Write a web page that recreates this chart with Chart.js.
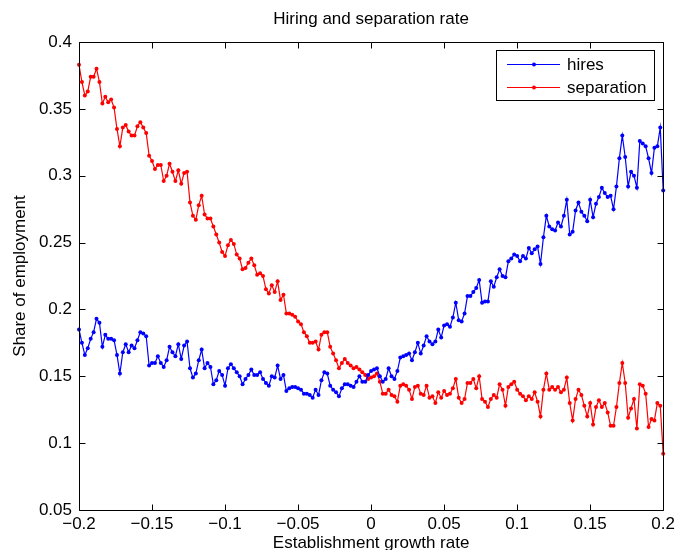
<!DOCTYPE html>
<html>
<head>
<meta charset="utf-8">
<title>Hiring and separation rate</title>
<script src="https://cdn.jsdelivr.net/npm/chart.js@4.4.1/dist/chart.umd.min.js"></script>
<style>
  html, body { margin: 0; padding: 0; background: #fff; }
  #wrap { width: 679px; height: 550px; }
</style>
</head>
<body>
<div id="wrap"><canvas id="chart" width="679" height="550"></canvas></div>
<script>
// x grid: establishment growth rate, from -0.2 to 0.2 in steps of 0.002
const xStart = -0.2;
const xStep = 0.002;

// share of employment hired
const hires = [
  0.185, 0.175, 0.166, 0.171, 0.178, 0.183, 0.193, 0.190, 0.172, 0.181,
  0.178, 0.178, 0.177, 0.166, 0.152, 0.168, 0.174, 0.168, 0.173, 0.171,
  0.177, 0.183, 0.182, 0.180, 0.158, 0.160, 0.160, 0.165, 0.160, 0.157,
  0.162, 0.172, 0.168, 0.165, 0.174, 0.163, 0.173, 0.176, 0.156, 0.149,
  0.152, 0.162, 0.170, 0.156, 0.160, 0.157, 0.144, 0.147, 0.154, 0.151,
  0.143, 0.156, 0.159, 0.156, 0.153, 0.150, 0.144, 0.148, 0.151, 0.155,
  0.151, 0.151, 0.153, 0.148, 0.145, 0.143, 0.150, 0.149, 0.158, 0.148,
  0.151, 0.139, 0.141, 0.142, 0.142, 0.141, 0.140, 0.137, 0.137, 0.136,
  0.134, 0.140, 0.136, 0.147, 0.153, 0.152, 0.143, 0.140, 0.138, 0.135,
  0.141, 0.144, 0.144, 0.143, 0.142, 0.146, 0.150, 0.146, 0.146, 0.151,
  0.154, 0.155, 0.156, 0.150, 0.146, 0.148, 0.156, 0.150, 0.148, 0.154,
  0.164, 0.165, 0.166, 0.167, 0.162, 0.168, 0.175, 0.167, 0.173, 0.180,
  0.176, 0.174, 0.176, 0.185, 0.179, 0.188, 0.189, 0.187, 0.194, 0.205,
  0.192, 0.191, 0.197, 0.210, 0.210, 0.213, 0.216, 0.222, 0.205, 0.206,
  0.206, 0.221, 0.217, 0.224, 0.230, 0.225, 0.224, 0.236, 0.238, 0.241,
  0.240, 0.236, 0.240, 0.238, 0.246, 0.242, 0.245, 0.247, 0.234, 0.254,
  0.270, 0.262, 0.260, 0.259, 0.265, 0.262, 0.270, 0.282, 0.256, 0.258,
  0.274, 0.280, 0.273, 0.270, 0.266, 0.282, 0.269, 0.279, 0.284, 0.291,
  0.287, 0.284, 0.285, 0.275, 0.292, 0.313, 0.330, 0.314, 0.292, 0.303,
  0.300, 0.291, 0.326, 0.324, 0.322, 0.313, 0.302, 0.321, 0.322, 0.336, 0.289
];

// share of employment separated
const separation = [
  0.383, 0.370, 0.360, 0.363, 0.374, 0.374, 0.380, 0.370, 0.354, 0.359,
  0.355, 0.357, 0.351, 0.335, 0.322, 0.336, 0.338, 0.333, 0.330, 0.330,
  0.337, 0.340, 0.336, 0.332, 0.315, 0.311, 0.305, 0.308, 0.308, 0.296,
  0.300, 0.309, 0.303, 0.296, 0.304, 0.294, 0.302, 0.303, 0.280, 0.270,
  0.267, 0.278, 0.285, 0.271, 0.268, 0.268, 0.262, 0.256, 0.250, 0.243,
  0.240, 0.248, 0.252, 0.249, 0.241, 0.238, 0.230, 0.231, 0.235, 0.238,
  0.233, 0.226, 0.227, 0.225, 0.215, 0.212, 0.218, 0.213, 0.221, 0.207,
  0.211, 0.197, 0.197, 0.196, 0.1945, 0.191, 0.189, 0.183, 0.180, 0.175,
  0.175, 0.176, 0.170, 0.181, 0.183, 0.183, 0.172, 0.167, 0.162, 0.156,
  0.160, 0.163, 0.160, 0.158, 0.156, 0.157, 0.155, 0.153, 0.151, 0.148,
  0.149, 0.150, 0.152, 0.146, 0.137, 0.137, 0.140, 0.136, 0.135, 0.131,
  0.143, 0.144, 0.143, 0.140, 0.133, 0.142, 0.143, 0.137, 0.136, 0.143,
  0.134, 0.135, 0.130, 0.138, 0.134, 0.139, 0.136, 0.137, 0.141, 0.148,
  0.134, 0.130, 0.133, 0.145, 0.145, 0.148, 0.141, 0.150, 0.133, 0.131,
  0.127, 0.133, 0.136, 0.134, 0.144, 0.140, 0.128, 0.142, 0.144, 0.146,
  0.140, 0.137, 0.135, 0.132, 0.135, 0.133, 0.138, 0.131, 0.120, 0.140,
  0.152, 0.140, 0.142, 0.140, 0.142, 0.138, 0.140, 0.149, 0.130, 0.117,
  0.133, 0.140, 0.136, 0.128, 0.120, 0.130, 0.114, 0.127, 0.132, 0.127,
  0.130, 0.123, 0.113, 0.113, 0.127, 0.145, 0.160, 0.145, 0.119, 0.126,
  0.133, 0.111, 0.144, 0.143, 0.137, 0.112, 0.118, 0.117, 0.130, 0.128, 0.092
];

const growth = hires.map((_, i) => +(xStart + i * xStep).toFixed(3));

// axis ticks
const xTicks = [-0.2, -0.15, -0.1, -0.05, 0, 0.05, 0.1, 0.15, 0.2];
const yTicks = [0.05, 0.1, 0.15, 0.2, 0.25, 0.3, 0.35, 0.4];

const FONT = '"Liberation Sans", Arial, Helvetica, sans-serif';

function fmt(v) {
  const r = Math.round(v * 100) / 100;
  if (r === 0) return '0';
  return (r < 0 ? '\u2212' : '') + Math.abs(r);
}

// MATLAB style box with inward ticks
const matlabAxes = {
  id: 'matlabAxes',
  afterDatasetsDraw(chart) {
    const { ctx, chartArea: a, scales: { x, y } } = chart;
    const L = Math.round(a.left) + 0.5, R = Math.round(a.right) + 0.5;
    const T = Math.round(a.top) + 0.5, B = Math.round(a.bottom) + 0.5;
    const tl = 6;
    ctx.save();
    ctx.strokeStyle = '#000';
    ctx.lineWidth = 1;
    ctx.beginPath();
    ctx.rect(L, T, R - L, B - T);
    xTicks.forEach(v => {
      const px = Math.round(x.getPixelForValue(v)) + 0.5;
      ctx.moveTo(px, B); ctx.lineTo(px, B - tl);
      ctx.moveTo(px, T); ctx.lineTo(px, T + tl);
    });
    yTicks.forEach(v => {
      const py = Math.round(y.getPixelForValue(v)) + 0.5;
      ctx.moveTo(L, py); ctx.lineTo(L + tl, py);
      ctx.moveTo(R, py); ctx.lineTo(R - tl, py);
    });
    ctx.stroke();
    ctx.restore();
  },
  afterDraw(chart) {
    // legend box in the upper right corner
    const { ctx } = chart;
    const bx = 496.5, by = 50.5, bw = 158, bh = 50;
    ctx.save();
    ctx.fillStyle = '#fff';
    ctx.fillRect(bx, by, bw, bh);
    ctx.strokeStyle = '#000';
    ctx.lineWidth = 1;
    ctx.strokeRect(bx, by, bw, bh);
    ctx.font = '17px ' + FONT;
    ctx.textBaseline = 'middle';
    ctx.textAlign = 'left';
    chart.data.datasets.forEach((ds, i) => {
      const ly = 64.5 + i * 23;
      ctx.strokeStyle = ds.borderColor;
      ctx.beginPath();
      ctx.moveTo(507, ly); ctx.lineTo(560, ly);
      ctx.stroke();
      ctx.fillStyle = ds.pointBackgroundColor;
      ctx.beginPath();
      ctx.arc(534, ly, 2, 0, Math.PI * 2);
      ctx.fill();
      ctx.fillStyle = '#000';
      ctx.fillText(ds.label, 567, ly + 1);
    });
    ctx.restore();
  }
};

new Chart(document.getElementById('chart'), {
  type: 'line',
  data: {
    datasets: [
      {
        label: 'hires',
        data: growth.map((g, i) => ({ x: g, y: hires[i] })),
        borderColor: '#0000ff',
        backgroundColor: '#0000ff',
        pointBackgroundColor: '#0000ff',
        pointBorderColor: '#0000ff',
        borderWidth: 1.2,
        pointRadius: 2,
        pointBorderWidth: 0,
        tension: 0,
        clip: false
      },
      {
        label: 'separation',
        data: growth.map((g, i) => ({ x: g, y: separation[i] })),
        borderColor: '#ff0000',
        backgroundColor: '#ff0000',
        pointBackgroundColor: '#ff0000',
        pointBorderColor: '#ff0000',
        borderWidth: 1.2,
        pointRadius: 2,
        pointBorderWidth: 0,
        tension: 0,
        clip: false
      }
    ]
  },
  options: {
    responsive: false,
    animation: false,
    layout: { padding: { top: 0, right: 14, bottom: 0, left: 0 } },
    plugins: {
      legend: { display: false },
      tooltip: { enabled: false },
      title: {
        display: true,
        text: 'Hiring and separation rate',
        fullSize: false,
        color: '#000',
        font: { family: FONT, size: 17, weight: 'normal' },
        padding: { top: 9, bottom: 12.6 }
      }
    },
    scales: {
      x: {
        type: 'linear',
        min: -0.2,
        max: 0.2,
        afterFit(scale) { scale.height = 40; },
        afterBuildTicks(scale) { scale.ticks = xTicks.map(v => ({ value: v })); },
        grid: { display: false, drawTicks: false },
        border: { display: false },
        ticks: {
          color: '#000',
          font: { family: FONT, size: 17 },
          padding: 4,
          maxRotation: 0,
          autoSkip: false,
          callback: v => fmt(v)
        },
        title: {
          display: true,
          text: 'Establishment growth rate',
          color: '#000',
          font: { family: FONT, size: 17, lineHeight: 0.8 },
          padding: 0
        }
      },
      y: {
        type: 'linear',
        min: 0.05,
        max: 0.4,
        afterFit(scale) { scale.width = 79; },
        afterBuildTicks(scale) { scale.ticks = yTicks.map(v => ({ value: v })); },
        grid: { display: false, drawTicks: false },
        border: { display: false },
        ticks: {
          color: '#000',
          font: { family: FONT, size: 17 },
          padding: 7,
          autoSkip: false,
          callback: v => fmt(v)
        },
        title: {
          display: true,
          text: 'Share of employment',
          color: '#000',
          font: { family: FONT, size: 17 },
          padding: { top: 10, bottom: 0 }
        }
      }
    }
  },
  plugins: [matlabAxes]
});
</script>
</body>
</html>
